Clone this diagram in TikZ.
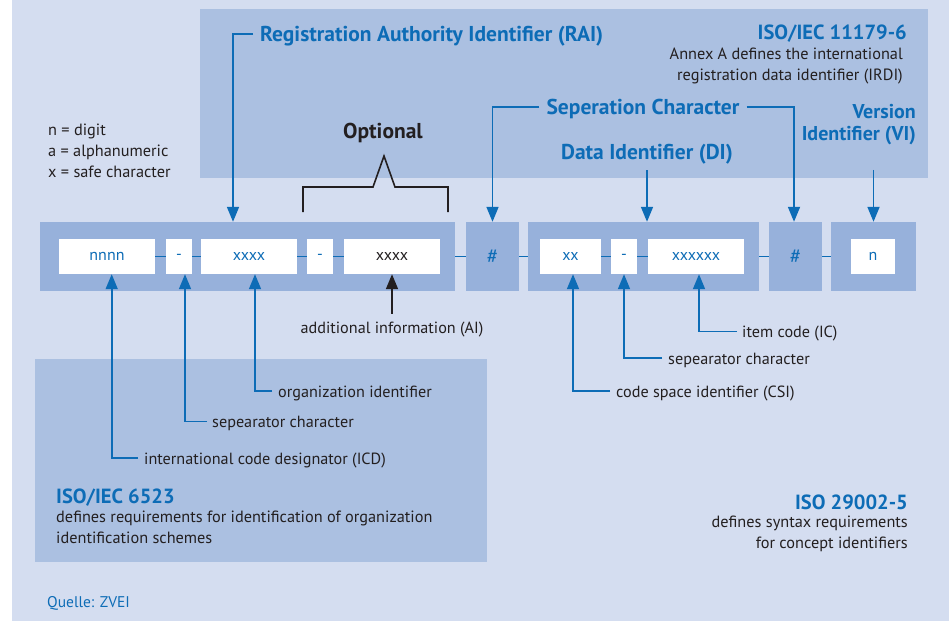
\documentclass[tikz,border=0pt]{standalone}
\usepackage{fontspec}
\setmainfont{PT Sans}
\usetikzlibrary{arrows.meta}

\definecolor{bgc}{HTML}{D4DDF0}
\definecolor{panelc}{HTML}{ABC0E1}
\definecolor{grpc}{HTML}{97B1DB}
\definecolor{blu}{HTML}{0D6CB6}
\definecolor{dark}{HTML}{231F20}

\tikzset{
  grp/.style={fill=grpc, inner sep=0pt, minimum height=69pt},
  cell/.style={fill=white, inner sep=0pt, minimum height=35pt, text=blu,
               font=\fontsize{16}{18}\selectfont},
  hashmark/.style={text=blu, inner sep=0pt, font=\fontsize{21}{24}\selectfont},
  link/.style={draw=blu, line width=1.4pt},
  arr/.style={draw=blu, line width=1.7pt, -{Triangle[width=12pt,length=15pt]}},
  blkarr/.style={draw=dark, line width=1.7pt, -{Triangle[width=12pt,length=15pt]}, dark},
  lbl/.style={text=dark, inner sep=0pt, text height=12pt, text depth=0pt,
              font=\fontsize{16.2}{20.5}\selectfont},
  para/.style={text=dark, inner sep=0pt, font=\fontsize{16.3}{20.8}\selectfont},
  ttl/.style={text=blu, inner sep=0pt, text height=15pt, text depth=0pt,
              font=\bfseries\fontsize{21.5}{23}\selectfont},
  stdttl/.style={ttl, font=\bfseries\fontsize{20.5}{23}\selectfont},
}

\begin{document}
\begin{tikzpicture}[x=1pt, y=-1pt]
\useasboundingbox (0,0) rectangle (949,621);
% backdrop and standards panels
\fill[bgc] (12,0) rectangle (949,621);
\fill[panelc] (200,9) rectangle (928,178);
\fill[panelc] (35,359) rectangle (487,562);

% identifier groups
\node[grp, minimum width=415pt] (g1) at (247.5,256.5) {};
\node[grp, minimum width=53pt]  (g2) at (492.5,256.5) {};
\node[grp, minimum width=231pt] (g3) at (643.5,256.5) {};
\node[grp, minimum width=53pt]  (g4) at (795.5,256.5) {};
\node[grp, minimum width=85pt]  (g5) at (873.5,256.5) {};

% character cells
\node[cell, minimum width=96pt] (b1) at (107,256.5) {nnnn};
\node[cell, minimum width=26pt] (d1) at (179,256.5) {-};
\node[cell, minimum width=96pt] (b2) at (249,256.5) {xxxx};
\node[cell, minimum width=26pt] (d2) at (320,256.5) {-};
\node[cell, minimum width=96pt, text=dark] (b3) at (392,256.5) {xxxx};
\node[cell, minimum width=61pt] (b4) at (570.5,256.5) {xx};
\node[cell, minimum width=26pt] (d3) at (624,256.5) {-};
\node[cell, minimum width=96pt] (b5) at (696,256.5) {xxxxxx};
\node[cell, minimum width=44pt] (b6) at (873,256.5) {n};
\node[hashmark] (h1) at (g2) {\#};
\node[hashmark] (h2) at (g4) {\#};

% joining line
\draw[link] (b1.east) -- (d1.west) (d1.east) -- (b2.west) (b2.east) -- (d2.west)
            (d2.east) -- (b3.west) (g1.east) -- (g2.west) (g2.east) -- (g3.west)
            (b4.east) -- (d3.west) (d3.east) -- (b5.west) (g3.east) -- (g4.west)
            (g4.east) -- (g5.west);

% legend
\node[para, anchor=north west, align=left] (legend) at (48,124)
  {n = digit\\a = alphanumeric\\x = safe character};

% optional bracket
\node[text=dark, inner sep=0pt, text height=15pt, text depth=0pt,
      font=\bfseries\fontsize{21.5}{24}\selectfont] (opt) at (383,131) {Optional};
\draw[dark, line width=1.6pt] (303,212) -- (303,187) -- (373,187) -- (384,156) -- (395,187) -- (448,187) -- (448,212);

% ISO/IEC 11179-6 panel
\node[stdttl, anchor=east] (iso11179) at (907,32) {ISO/IEC 11179-6};
\node[para, anchor=north east, align=right] (annex) at (903,48)
  {Annex A defines the international\\registration data identifier (IRDI)};
\node[ttl, anchor=west] (rai) at (260,34) {Registration Authority Identifier (RAI)};
\node[ttl] (sep) at (643,107) {Seperation Character};
\node[ttl] (di) at (647,152) {Data Identifier (DI)};
\node[ttl, anchor=east, align=right, text height=, text depth=,
      font=\bfseries\fontsize{20}{22}\selectfont] (vi) at (916,125) {Version\\Identifier (VI)};

\draw[arr] ([xshift=-7pt]rai.west) -| ([xshift=-14.5pt]g1.north);
\draw[arr] ([xshift=-7pt]sep.west) -| (g2.north);
\draw[arr] ([xshift=7pt]sep.east) -| ([xshift=-1.5pt]g4.north);
\draw[arr] (di) ++(0,18) -- (di |- g3.north);
\draw[arr] ([yshift=52pt]g5.north) -- (g5.north);

% lower labels
\node[lbl] (ailbl) at (392,327) {additional information (AI)};
\draw[blkarr] ([yshift=7pt]ailbl.north) -- (b3.south);

\node[lbl, anchor=west] (org) at (278,391) {organization identifier};
\node[lbl, anchor=west] (sepa) at (212,421.5) {sepearator character};
\node[lbl, anchor=west] (icd) at (144,458) {international code designator (ICD)};
\draw[arr] ([xshift=-6pt]org.west) -| ([xshift=6pt]b2.south);
\draw[arr] ([xshift=-5pt]sepa.west) -| ([xshift=6pt]d1.south);
\draw[arr] ([xshift=-6pt]icd.west) -| ([xshift=4.7pt]b1.south);

\node[lbl, anchor=west] (ic) at (742,331.5) {item code (IC)};
\node[lbl, anchor=west] (sepb) at (668,358) {sepearator character};
\node[lbl, anchor=west] (csi) at (616,391) {code space identifier (CSI)};
\draw[arr] ([xshift=-5pt]ic.west) -| ([xshift=3pt]b5.south);
\draw[arr] ([xshift=-6pt]sepb.west) -| (d3.south);
\draw[arr] ([xshift=-6pt]csi.west) -| ([xshift=2.5pt]b4.south);

% ISO/IEC 6523 panel
\node[stdttl, anchor=west] (iso6523) at (56,496) {ISO/IEC 6523};
\node[para, anchor=north west, align=left] (iso6523txt) at (56,511)
  {defines requirements for identification of organization\\identification schemes};

% ISO 29002-5
\node[stdttl, anchor=east] (iso29002) at (908,502) {ISO 29002-5};
\node[para, anchor=north east, align=right] (iso29002txt) at (908,516)
  {defines syntax requirements\\for concept identifiers};

% source
\node[text=blu, inner sep=0pt, anchor=west, font=\fontsize{15.5}{17}\selectfont] (src) at (47,603) {Quelle: ZVEI};
\end{tikzpicture}
\end{document}
